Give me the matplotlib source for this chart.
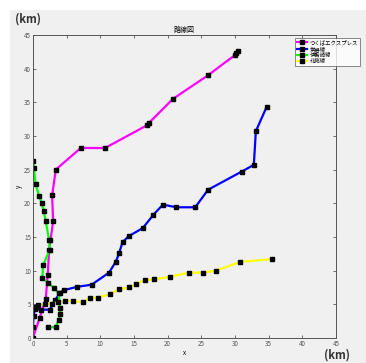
import matplotlib
matplotlib.use("Agg")
import matplotlib.pyplot as plt
from matplotlib.patches import Rectangle

plt.rcParams['font.family'] = ['Noto Sans CJK JP', 'DejaVu Sans']

# Data (km)
tx_x = [0.0, 1.0, 1.9, 2.2, 2.4, 2.6, 3.0, 2.85, 3.4, 7.1, 10.7, 17.0, 17.2, 20.8, 26.0, 30.0, 30.2, 30.4]
tx_y = [0.0, 3.0, 5.8, 9.4, 13.0, 14.5, 17.3, 21.2, 25.0, 28.2, 28.2, 31.6, 31.9, 35.5, 39.0, 42.0, 42.3, 42.6]

joban_x = [0.0, 0.1, 0.3, 1.2, 2.5, 3.3, 4.0, 4.6, 6.6, 8.7, 11.3, 12.3, 12.8, 13.3, 14.2, 16.3, 17.9, 19.3,
           21.3, 24.1, 26.0, 31.0, 32.8, 33.1, 34.7]
joban_y = [1.7, 3.3, 4.3, 4.2, 4.2, 5.6, 6.7, 7.1, 7.6, 7.9, 9.7, 11.3, 12.6, 14.2, 15.1, 16.3, 18.3, 19.8,
           19.4, 19.4, 22.0, 24.7, 25.7, 30.7, 34.3]

isesaki_x = [0.0, 0.15, 0.4, 0.9, 1.3, 1.6, 1.9, 2.4, 2.5, 1.5, 1.4, 2.3, 3.2, 3.8, 4.0, 4.0, 3.8, 3.4, 2.3]
isesaki_y = [26.3, 25.2, 22.8, 21.1, 20.0, 18.8, 17.3, 14.6, 13.1, 10.8, 8.9, 8.1, 7.4, 6.6, 4.5, 3.6, 2.7, 1.6, 1.6]

hokuso_x = [0.2, 0.8, 1.8, 2.8, 3.7, 4.75, 6.0, 7.4, 8.4, 9.6, 11.4, 12.8, 14.3, 15.3, 16.6, 18.0, 20.4,
            23.2, 25.2, 27.2, 30.8, 35.5]
hokuso_y = [4.6, 4.9, 5.0, 5.1, 5.3, 5.5, 5.5, 5.3, 5.9, 6.0, 6.5, 7.2, 7.5, 8.0, 8.6, 8.7, 9.1,
            9.7, 9.7, 10.0, 11.3, 11.7]

names = ['つくばエクスプレス', '常磐線', '伊勢崎線', '北総線']
colors = ['#ff00ff', '#0000ff', '#00ff00', '#ffff00']
ticks = [0, 5, 10, 15, 20, 25, 30, 35, 40, 45]

fig = plt.figure(figsize=(3.66, 3.63), dpi=100)
fig.patch.set_facecolor('white')
# gray window area
fig.patches.append(Rectangle((10 / 366, 0), 1, 1 - 10 / 363, transform=fig.transFigure,
                             facecolor='#f0f0f0', edgecolor='none', zorder=-10))

ax = fig.add_axes([0.090, 0.069, 0.828, 0.835])
ax.set_facecolor('#f0f0f0')

series = [(tx_x, tx_y), (joban_x, joban_y), (isesaki_x, isesaki_y), (hokuso_x, hokuso_y)]
for (xs, ys), name, c in zip(series, names, colors):
    ax.plot(xs, ys, '-s', color=c, lw=1.6, ms=2.8, mfc='black', mec='black', label=name)

ax.set_xlim(0, 45)
ax.set_ylim(0, 45)
ax.set_xticks(ticks)
ax.set_yticks(ticks)
ax.tick_params(direction='in', length=2.5, width=0.6, labelsize=4.5, colors='#555555',
               top=True, right=True, pad=1.5)
for s in ax.spines.values():
    s.set_color('#555555')
    s.set_linewidth(0.7)

ax.set_title('路線図', fontsize=5, pad=2)
ax.set_xlabel('x', fontsize=4.5, labelpad=1)
ax.set_ylabel('y', fontsize=4.5, labelpad=1)

fig.text(28 / 366, 1 - 19 / 363, '(km)', fontsize=8, fontweight='bold', ha='center', va='center',
         color='#333333')
fig.text(337 / 366, 1 - 355 / 363, '(km)', fontsize=8, fontweight='bold', ha='center', va='center',
         color='#333333')

leg = ax.legend(loc='upper left', bbox_to_anchor=(262 / 303, 1 - 3 / 303), fontsize=3.9,
                frameon=True, fancybox=False, borderpad=0.3, labelspacing=0.15,
                handlelength=2.0, handletextpad=0.4, borderaxespad=0)
leg.get_frame().set_edgecolor('#555555')
leg.get_frame().set_linewidth(0.6)
leg.get_frame().set_facecolor('white')

fig.savefig('out.png', dpi=100)
